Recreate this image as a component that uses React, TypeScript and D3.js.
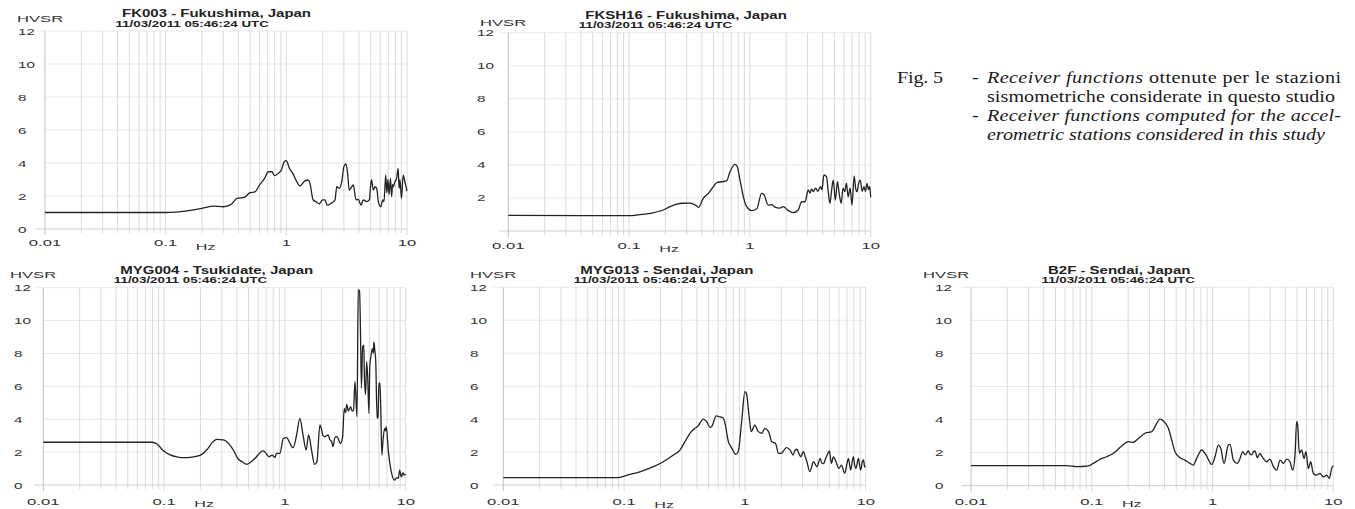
import React from 'react';
import * as d3 from 'd3';

type Pt = [number, number];

const stationTitles = [
  'FK003 - Fukushima, Japan',
  'FKSH16 - Fukushima, Japan',
  'MYG004 - Tsukidate, Japan',
  'MYG013 - Sendai, Japan',
  'B2F - Sendai, Japan',
];
const eventTime = '11/03/2011 05:46:24 UTC';
const yAxisLabel = 'HVSR';
const xAxisLabel = 'Hz';
const freqTicks = [0.01, 0.1, 1, 10];
const freqTickLabels = ['0.01', '0.1', '1', '10'];
const hvsrTicks = [0, 2, 4, 6, 8, 10, 12];

const fk003: Pt[] = [[0.01,1.0],[0.1,1.0],[0.12,1.02],[0.15,1.1],[0.2,1.25],[0.25,1.39],[0.3,1.35],[0.35,1.5],[0.39,1.86],[0.45,1.92],[0.5,2.2],[0.55,2.25],[0.6,2.67],[0.66,3.07],[0.71,3.47],[0.76,3.47],[0.8,3.23],[0.86,3.37],[0.91,3.58],[0.96,4.08],[1.0,4.14],[1.06,3.68],[1.13,3.37],[1.22,2.87],[1.3,2.6],[1.4,2.87],[1.49,2.97],[1.55,2.9],[1.67,1.76],[1.76,1.66],[1.87,1.52],[2.0,1.76],[2.09,1.76],[2.18,1.45],[2.38,1.58],[2.53,1.76],[2.62,2.56],[2.75,2.46],[2.88,2.87],[3.0,3.78],[3.12,3.94],[3.22,3.37],[3.32,2.36],[3.48,2.56],[3.59,2.67],[3.78,1.76],[3.95,1.8],[4.16,1.45],[4.35,1.76],[4.63,1.66],[4.87,1.76],[5.0,2.67],[5.09,2.97],[5.25,2.36],[5.43,2.56],[5.61,2.46],[5.79,1.66],[6.06,1.35],[6.29,1.76],[6.45,1.66],[6.66,3.27],[6.8,2.2],[6.95,3.0],[7.1,2.1],[7.3,3.07],[7.46,1.96],[7.6,2.7],[7.71,2.56],[7.95,2.87],[8.2,3.07],[8.45,3.68],[8.6,2.46],[8.75,2.97],[9.0,1.86],[9.3,3.27],[9.6,2.87],[10,2.3]];

const fksh16: Pt[] = [[0.01,0.95],[0.1,0.93],[0.12,0.98],[0.149,1.07],[0.192,1.27],[0.218,1.47],[0.248,1.63],[0.28,1.68],[0.319,1.69],[0.363,1.51],[0.375,1.43],[0.411,1.98],[0.453,2.28],[0.498,2.68],[0.53,2.92],[0.584,2.98],[0.642,3.03],[0.684,3.59],[0.753,4.03],[0.787,3.89],[0.828,3.08],[0.883,2.07],[0.94,1.47],[1.035,1.23],[1.14,1.35],[1.25,2.28],[1.31,2.18],[1.42,1.57],[1.52,1.6],[1.61,1.45],[1.77,1.39],[1.89,1.47],[2.08,1.23],[2.29,1.11],[2.51,1.27],[2.68,1.77],[2.86,1.77],[3.04,2.48],[3.15,2.3],[3.24,2.55],[3.35,2.38],[3.5,2.6],[3.65,2.4],[3.84,2.68],[3.95,2.5],[4.1,3.39],[4.3,3.29],[4.45,2.4],[4.6,1.67],[4.75,2.5],[4.9,3.08],[5.1,1.87],[5.3,2.98],[5.5,2.2],[5.7,1.67],[5.9,2.6],[6.1,2.38],[6.3,2.9],[6.5,2.07],[6.75,2.6],[7.0,1.57],[7.3,3.33],[7.5,2.6],[7.7,2.38],[7.95,2.9],[8.2,3.08],[8.5,2.4],[8.8,2.68],[9.05,2.4],[9.3,2.88],[9.6,2.5],[9.8,2.7],[10,2.04]];

const myg004: Pt[] = [[0.01,2.6],[0.079,2.6],[0.085,2.55],[0.0896,2.42],[0.098,2.1],[0.111,1.85],[0.13,1.7],[0.144,1.66],[0.17,1.7],[0.198,1.8],[0.225,2.13],[0.255,2.64],[0.272,2.78],[0.309,2.74],[0.351,2.43],[0.374,2.13],[0.411,1.58],[0.445,1.4],[0.483,1.26],[0.547,1.52],[0.662,2.07],[0.707,1.87],[0.74,1.72],[0.78,1.82],[0.83,1.68],[0.85,1.92],[0.91,1.92],[0.97,2.84],[1.03,2.88],[1.14,2.33],[1.17,2.27],[1.25,3.04],[1.33,4.05],[1.42,2.94],[1.5,2.13],[1.57,3.04],[1.67,2.03],[1.76,1.26],[1.84,1.42],[1.95,3.65],[2.0,3.45],[2.07,3.0],[2.14,2.94],[2.28,3.04],[2.36,2.75],[2.44,2.64],[2.5,2.33],[2.6,2.9],[2.7,2.94],[2.88,2.53],[3.0,2.88],[3.1,4.66],[3.18,4.4],[3.25,4.9],[3.35,4.5],[3.5,4.77],[3.6,4.5],[3.7,4.56],[3.8,6.3],[3.95,4.16],[4.05,11.86],[4.15,11.8],[4.22,9.5],[4.3,5.9],[4.4,8.4],[4.5,8.5],[4.55,6.6],[4.65,5.5],[4.75,7.5],[4.85,6.5],[4.96,4.36],[5.05,7.3],[5.15,7.8],[5.3,8.3],[5.4,8.0],[5.45,8.7],[5.55,8.2],[5.65,7.5],[5.8,4.05],[5.9,4.15],[6.0,6.2],[6.1,6.19],[6.2,5.06],[6.35,1.82],[6.5,2.8],[6.7,3.45],[6.8,3.3],[6.9,3.55],[7.2,2.0],[7.6,0.8],[8.1,0.3],[8.4,0.45],[8.7,0.4],[8.9,0.91],[9.2,0.5],[9.5,0.75],[9.7,0.6],[10,0.65]];

const myg013: Pt[] = [[0.01,0.45],[0.09,0.45],[0.0925,0.46],[0.105,0.58],[0.135,0.8],[0.175,1.11],[0.211,1.41],[0.256,1.82],[0.29,2.12],[0.319,2.63],[0.351,3.14],[0.386,3.44],[0.411,3.6],[0.453,4.0],[0.483,3.84],[0.514,3.5],[0.53,3.54],[0.58,4.2],[0.62,4.13],[0.66,4.07],[0.68,3.84],[0.73,2.63],[0.78,2.22],[0.84,1.86],[0.88,2.02],[0.94,3.84],[1.0,5.66],[1.03,5.56],[1.08,4.25],[1.13,3.24],[1.21,3.64],[1.29,3.24],[1.38,3.14],[1.46,3.44],[1.57,3.24],[1.67,2.63],[1.79,2.53],[1.9,1.92],[2.0,1.92],[2.1,2.1],[2.2,2.27],[2.37,2.12],[2.5,1.82],[2.6,2.1],[2.7,2.17],[2.8,1.9],[2.9,1.72],[3.05,2.02],[3.15,1.75],[3.25,1.46],[3.45,0.81],[3.7,1.41],[3.95,1.11],[4.2,1.62],[4.35,1.3],[4.5,1.31],[4.65,1.6],[4.8,1.82],[5.0,2.07],[5.2,1.31],[5.4,1.7],[5.6,1.52],[6.0,1.01],[6.3,1.21],[6.7,0.71],[7.0,1.3],[7.2,1.62],[7.5,0.91],[7.9,1.72],[8.1,1.2],[8.3,1.01],[8.7,1.62],[8.9,1.2],[9.1,0.91],[9.4,1.45],[9.6,1.52],[9.8,1.1],[10,1.11]];

const b2f: Pt[] = [[0.01,1.21],[0.062,1.21],[0.075,1.15],[0.094,1.2],[0.103,1.35],[0.117,1.59],[0.133,1.75],[0.151,1.96],[0.177,2.4],[0.201,2.66],[0.221,2.62],[0.243,2.86],[0.276,3.17],[0.314,3.27],[0.334,3.57],[0.367,4.03],[0.392,3.91],[0.431,3.47],[0.459,2.76],[0.489,2.06],[0.538,1.69],[0.592,1.55],[0.651,1.35],[0.693,1.25],[0.739,1.65],[0.813,2.16],[0.883,1.86],[0.984,1.29],[1.048,1.75],[1.117,2.46],[1.17,2.26],[1.245,1.35],[1.352,2.46],[1.396,2.5],[1.487,1.55],[1.6,1.35],[1.69,1.65],[1.78,2.06],[1.86,1.86],[1.98,2.1],[2.05,1.9],[2.11,1.86],[2.18,2.05],[2.25,2.1],[2.35,1.69],[2.47,1.96],[2.55,1.8],[2.63,1.65],[2.81,1.45],[2.99,1.61],[3.19,1.15],[3.4,0.94],[3.62,1.55],[3.86,1.35],[4.11,1.61],[4.38,1.45],[4.61,0.94],[4.82,1.86],[4.97,3.87],[5.07,3.67],[5.23,1.96],[5.47,2.16],[5.72,1.65],[5.94,2.06],[6.21,1.04],[6.5,1.45],[6.83,0.74],[7.28,0.64],[7.76,0.74],[8.27,0.54],[8.82,0.64],[9.27,0.44],[9.69,1.04],[10,1.21]];

const series = [fk003, fksh16, myg004, myg013, b2f];

const captionLines = [
  { parts: [{ t: 'Receiver functions', i: true }, { t: ' ottenute per le stazioni', i: false }] },
  { parts: [{ t: 'sismometriche considerate in questo studio', i: false }] },
  { parts: [{ t: 'Receiver functions computed for the accel-', i: true }] },
  { parts: [{ t: 'erometric stations considered in this study', i: true }] },
];

const layouts = [
  { left: 45, right: 407, top: 31, bottom: 229, hvsrX: 17, hvsrY: 21.5, tickX: 18, xLabY: 246, hzY: 250, titleY: 17, subY: 26.7, zero: true },
  { left: 508.3, right: 870.7, top: 32.7, bottom: 231, hvsrX: 480, hvsrY: 26, tickX: 477, xLabY: 249, hzY: 252, titleY: 19, subY: 28.3, zero: false },
  { left: 43.3, right: 405.7, top: 287.7, bottom: 485, hvsrX: 10, hvsrY: 278.3, tickX: 14, xLabY: 505, hzY: 507, titleY: 274, subY: 283.3, zero: true },
  { left: 503.3, right: 865.7, top: 287.3, bottom: 485, hvsrX: 470, hvsrY: 278, tickX: 470, xLabY: 505, hzY: 507.5, titleY: 274, subY: 283, zero: true },
  { left: 971, right: 1333.3, top: 287.3, bottom: 485.7, hvsrX: 923, hvsrY: 278, tickX: 935, xLabY: 505, hzY: 507, titleY: 274, subY: 283, zero: true },
];

const SANS = 'Liberation Sans, Arial, sans-serif';
const SERIF = 'Liberation Serif, Times New Roman, serif';

function SText(props: { x: number; y: number; sx: number; size: number; anchor?: string; weight?: string; fill?: string; children: any }) {
  const { x, y, sx, size, anchor = 'start', weight = 'normal', fill = '#333', children } = props;
  return (
    <text transform={`translate(${x},${y}) scale(${sx},1)`} textAnchor={anchor as any} fontSize={size} fontWeight={weight} fontFamily={SANS} fill={fill}>
      {children}
    </text>
  );
}

const minorFreqs: number[] = (() => {
  const out: number[] = [];
  [0.01, 0.1, 1].forEach((d) => { for (let k = 1; k <= 9; k++) out.push(d * k); });
  out.push(10);
  return out;
})();

function Panel({ idx }: { idx: number }) {
  const L = layouts[idx];
  const xs = d3.scaleLog().domain([0.01, 10]).range([L.left, L.right]);
  const ys = d3.scaleLinear().domain([0, 12]).range([L.bottom, L.top]);
  const line = d3.line<Pt>().x((d) => xs(d[0])).y((d) => ys(d[1])).curve(d3.curveMonotoneX);
  return (
    <g>
      {hvsrTicks.map((t) => (
        <line key={'h' + t} x1={t === 0 || t === 12 ? L.left - 9 : L.left} x2={L.right} y1={ys(t)} y2={ys(t)} stroke={t === 0 ? '#c8c8c8' : '#e6e6e6'} strokeWidth={0.9} />
      ))}
      {minorFreqs.map((f, i) => {
        const major = freqTicks.some((m) => Math.abs(m - f) < 1e-9);
        return (
          <line key={'v' + i} x1={xs(f)} x2={xs(f)} y1={L.top} y2={L.bottom + (major ? 6 : 4)} stroke={f === 0.01 ? '#b8b8b8' : '#d6d6d6'} strokeWidth={0.9} />
        );
      })}
      <path d={line(series[idx]) || ''} fill="none" stroke="#222" strokeWidth={1.3} strokeLinejoin="round" />
      {hvsrTicks.filter((t) => L.zero || t > 0).map((t) => (
        <SText key={'yl' + t} x={L.tickX} y={ys(t) + 3.5} sx={1.55} size={9.8}>{String(t)}</SText>
      ))}
      {freqTicks.map((f, i) => (
        <SText key={'xl' + i} x={xs(f)} y={L.xLabY} sx={1.7} size={9.8} anchor="middle">{freqTickLabels[i]}</SText>
      ))}
      <SText x={xs(0.1) + 40} y={L.hzY} sx={1.7} size={9.5} anchor="middle">{xAxisLabel}</SText>
      <SText x={L.hvsrX} y={L.hvsrY} sx={1.7} size={9.8}>{yAxisLabel}</SText>
      <SText x={L.left + 77} y={L.titleY} sx={1.5} size={10} weight="bold" fill="#222">{stationTitles[idx]}</SText>
      <SText x={L.left + 70.5} y={L.subY} sx={1.57} size={8.5} weight="bold" fill="#222">{eventTime}</SText>
    </g>
  );
}

const CAP_SX = 1.15;
const capStart = 987;
const capEnds = [1341, 1335, 1341, 1325];
const capBase = [83, 102, 121, 140];

function Caption() {
  return (
    <g fill="#1a1a1a" fontFamily={SERIF} fontSize={17.5}>
      <text transform={`translate(897,${capBase[0]}) scale(${CAP_SX},1)`} textLength={46 / CAP_SX} lengthAdjust="spacing">Fig. 5</text>
      <text transform={`translate(972,${capBase[0]}) scale(${CAP_SX},1)`}>-</text>
      <text transform={`translate(972,${capBase[2]}) scale(${CAP_SX},1)`}>-</text>
      {captionLines.map((ln, i) => (
        <text key={i} transform={`translate(${capStart},${capBase[i]}) scale(${CAP_SX},1)`} textLength={(capEnds[i] - capStart) / CAP_SX} lengthAdjust="spacing">
          {ln.parts.map((p, j) => (
            <tspan key={j} fontStyle={p.i ? 'italic' : 'normal'}>{p.t}</tspan>
          ))}
        </text>
      ))}
    </g>
  );
}

export default function App() {
  return (
    <svg width={1355} height={509} style={{ position: 'absolute', left: 0, top: 0, background: '#fff' }}>
      <rect width={1355} height={509} fill="#fff" />
      {layouts.map((_, i) => <Panel key={i} idx={i} />)}
      <Caption />
    </svg>
  );
}
